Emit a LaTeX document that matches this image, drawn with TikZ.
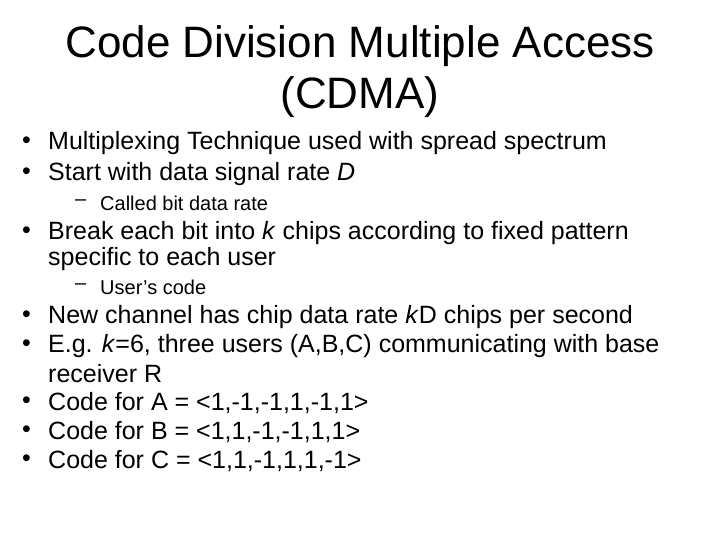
\documentclass[tikz,border=0pt]{standalone}
\usepackage{fontspec}
\setmainfont{Liberation Sans}
\begin{document}
\begin{tikzpicture}[x=1pt,y=-1pt,
  bt/.style={anchor=west,inner sep=0pt,font=\fontsize{25}{30}\selectfont},
  st/.style={anchor=west,inner sep=0pt,font=\fontsize{20}{24}\selectfont},
  tt/.style={anchor=center,inner sep=0pt,font=\fontsize{44}{52}\selectfont}]
\useasboundingbox (0,0) rectangle (720,540);
\node[tt] (t1) at (360,46) {Code Division Multiple Access};
\node[tt] (t2) at (360,97) {(CDMA)};
\foreach \y/\t [count=\i] in {143/{Multiplexing Technique used with spread spectrum},
  174/{Start with data signal rate \textit{D}},
  233/{Break each bit into \textit{k} chips according to fixed pattern},
  317/{New channel has chip data rate \textit{k}D chips per second},
  346/{E.g. \textit{k}=6, three users (A,B,C) communicating with base},
  403/{Code for A = <1,-1,-1,1,-1,1>},
  432/{Code for B = <1,1,-1,-1,1,1>},
  461/{Code for C = <1,1,-1,1,1,-1>}}{
  \node[bt] (b\i) at (22,\y) {•};
  \node[bt] (l\i) at (48,\y) {\t};
}
\node[bt] (c1) at (48,259) {specific to each user};
\node[bt] (c2) at (48,374) {receiver R};
\node[st] (d1) at (75,203) {–};
\node[st] (s1) at (100,203) {Called bit data rate};
\node[st] (d2) at (75,287) {–};
\node[st] (s2) at (100,287) {User’s code};
\end{tikzpicture}
\end{document}
